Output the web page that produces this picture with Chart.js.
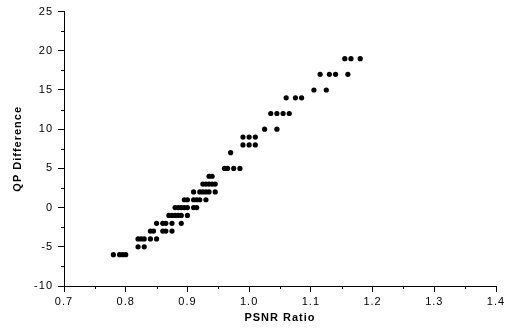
<!DOCTYPE html>
<html>
<head>
<meta charset="utf-8">
<style>
  html, body { margin: 0; padding: 0; background: #ffffff; }
  #wrap { width: 508px; height: 330px; position: relative; }
</style>
<script src="https://cdn.jsdelivr.net/npm/chart.js@4.4.1/dist/chart.umd.min.js"></script>
</head>
<body>
<div id="wrap"><canvas id="chart" width="508" height="330"></canvas></div>
<script>
// QP difference levels and the PSNR ratios measured at each level
const qpLevels = [-6, -5, -4, -3, -2, -1, 0, 1, 2, 3, 4, 5, 7, 8, 9, 10, 12, 14, 15, 17, 19];
const psnrRatios = [
  [0.78, 0.79, 0.795, 0.80],
  [0.82, 0.83],
  [0.82, 0.825, 0.83, 0.84, 0.85],
  [0.84, 0.845, 0.86, 0.865, 0.875],
  [0.85, 0.86, 0.865, 0.875, 0.89],
  [0.87, 0.875, 0.88, 0.885, 0.89, 0.90],
  [0.88, 0.885, 0.89, 0.895, 0.90, 0.91, 0.915],
  [0.895, 0.90, 0.91, 0.915, 0.92, 0.93],
  [0.91, 0.92, 0.925, 0.93, 0.935, 0.945],
  [0.925, 0.93, 0.935, 0.94, 0.945],
  [0.935, 0.94],
  [0.96, 0.965, 0.975, 0.985],
  [0.97],
  [0.99, 1.00, 1.01],
  [0.99, 1.00, 1.01],
  [1.025, 1.045],
  [1.035, 1.045, 1.055, 1.065],
  [1.06, 1.075, 1.085],
  [1.105, 1.125],
  [1.115, 1.13, 1.14, 1.16],
  [1.155, 1.165, 1.18]
];

// Axis ranges and tick steps
const xMin = 0.7, xMax = 1.4, xStep = 0.1;
const yMin = -10, yMax = 25, yStep = 5;

const points = [];
qpLevels.forEach((qp, i) => {
  psnrRatios[i].forEach(r => points.push({ x: r, y: qp }));
});

// Half-step minor tick marks drawn outside the axes
const minorTicks = {
  id: 'minorTicks',
  afterDraw(chart) {
    const { ctx, scales: { x, y } } = chart;
    ctx.save();
    ctx.strokeStyle = '#000';
    ctx.lineWidth = 1;
    ctx.beginPath();
    for (let v = xMin + xStep / 2; v < xMax; v += xStep) {
      const px = Math.round(x.getPixelForValue(v)) + 0.5;
      ctx.moveTo(px, y.bottom);
      ctx.lineTo(px, y.bottom + 3);
    }
    for (let v = yMin + yStep / 2; v < yMax; v += yStep) {
      const py = Math.round(y.getPixelForValue(v)) + 0.5;
      ctx.moveTo(x.left, py);
      ctx.lineTo(x.left - 3, py);
    }
    ctx.stroke();
    ctx.restore();
  }
};

// Slightly spaced lettering for all chart text
const spacedText = {
  id: 'spacedText',
  beforeDraw(chart) { chart.ctx.letterSpacing = '1px'; },
  afterDraw(chart) { chart.ctx.letterSpacing = '0px'; }
};

new Chart(document.getElementById('chart'), {
  type: 'scatter',
  data: {
    datasets: [{
      data: points,
      backgroundColor: '#000',
      borderColor: '#000',
      pointRadius: 2.6,
      pointBorderWidth: 0
    }]
  },
  options: {
    responsive: false,
    animation: false,
    layout: { padding: { top: 11, right: 12, left: 0, bottom: 0 } },
    plugins: { legend: { display: false }, tooltip: { enabled: false } },
    scales: {
      x: {
        type: 'linear',
        min: xMin, max: xMax,
        afterFit(s) { s.height = 44; },
        ticks: {
          stepSize: xStep,
          color: '#000',
          padding: 3,
          maxRotation: 0,
          font: { family: 'Arial, "Liberation Sans", sans-serif', size: 11 },
          callback: v => Number(v).toFixed(1)
        },
        grid: { drawOnChartArea: false, drawTicks: true, tickLength: 6, color: '#000', lineWidth: 1 },
        border: { display: true, color: '#000', width: 1 },
        title: {
          display: true,
          text: 'PSNR Ratio',
          color: '#000',
          padding: { top: 0, bottom: 5 },
          font: { family: 'Arial, "Liberation Sans", sans-serif', size: 11, weight: 'bold' }
        }
      },
      y: {
        type: 'linear',
        min: yMin, max: yMax,
        afterFit(s) { s.width = 64; },
        ticks: {
          stepSize: yStep,
          color: '#000',
          padding: 5,
          font: { family: 'Arial, "Liberation Sans", sans-serif', size: 11 }
        },
        grid: { drawOnChartArea: false, drawTicks: true, tickLength: 6, color: '#000', lineWidth: 1 },
        border: { display: true, color: '#000', width: 1 },
        title: {
          display: true,
          text: 'QP Difference',
          color: '#000',
          padding: { top: 11, bottom: 0 },
          font: { family: 'Arial, "Liberation Sans", sans-serif', size: 11, weight: 'bold' }
        }
      }
    }
  },
  plugins: [minorTicks, spacedText]
});
</script>
</body>
</html>
